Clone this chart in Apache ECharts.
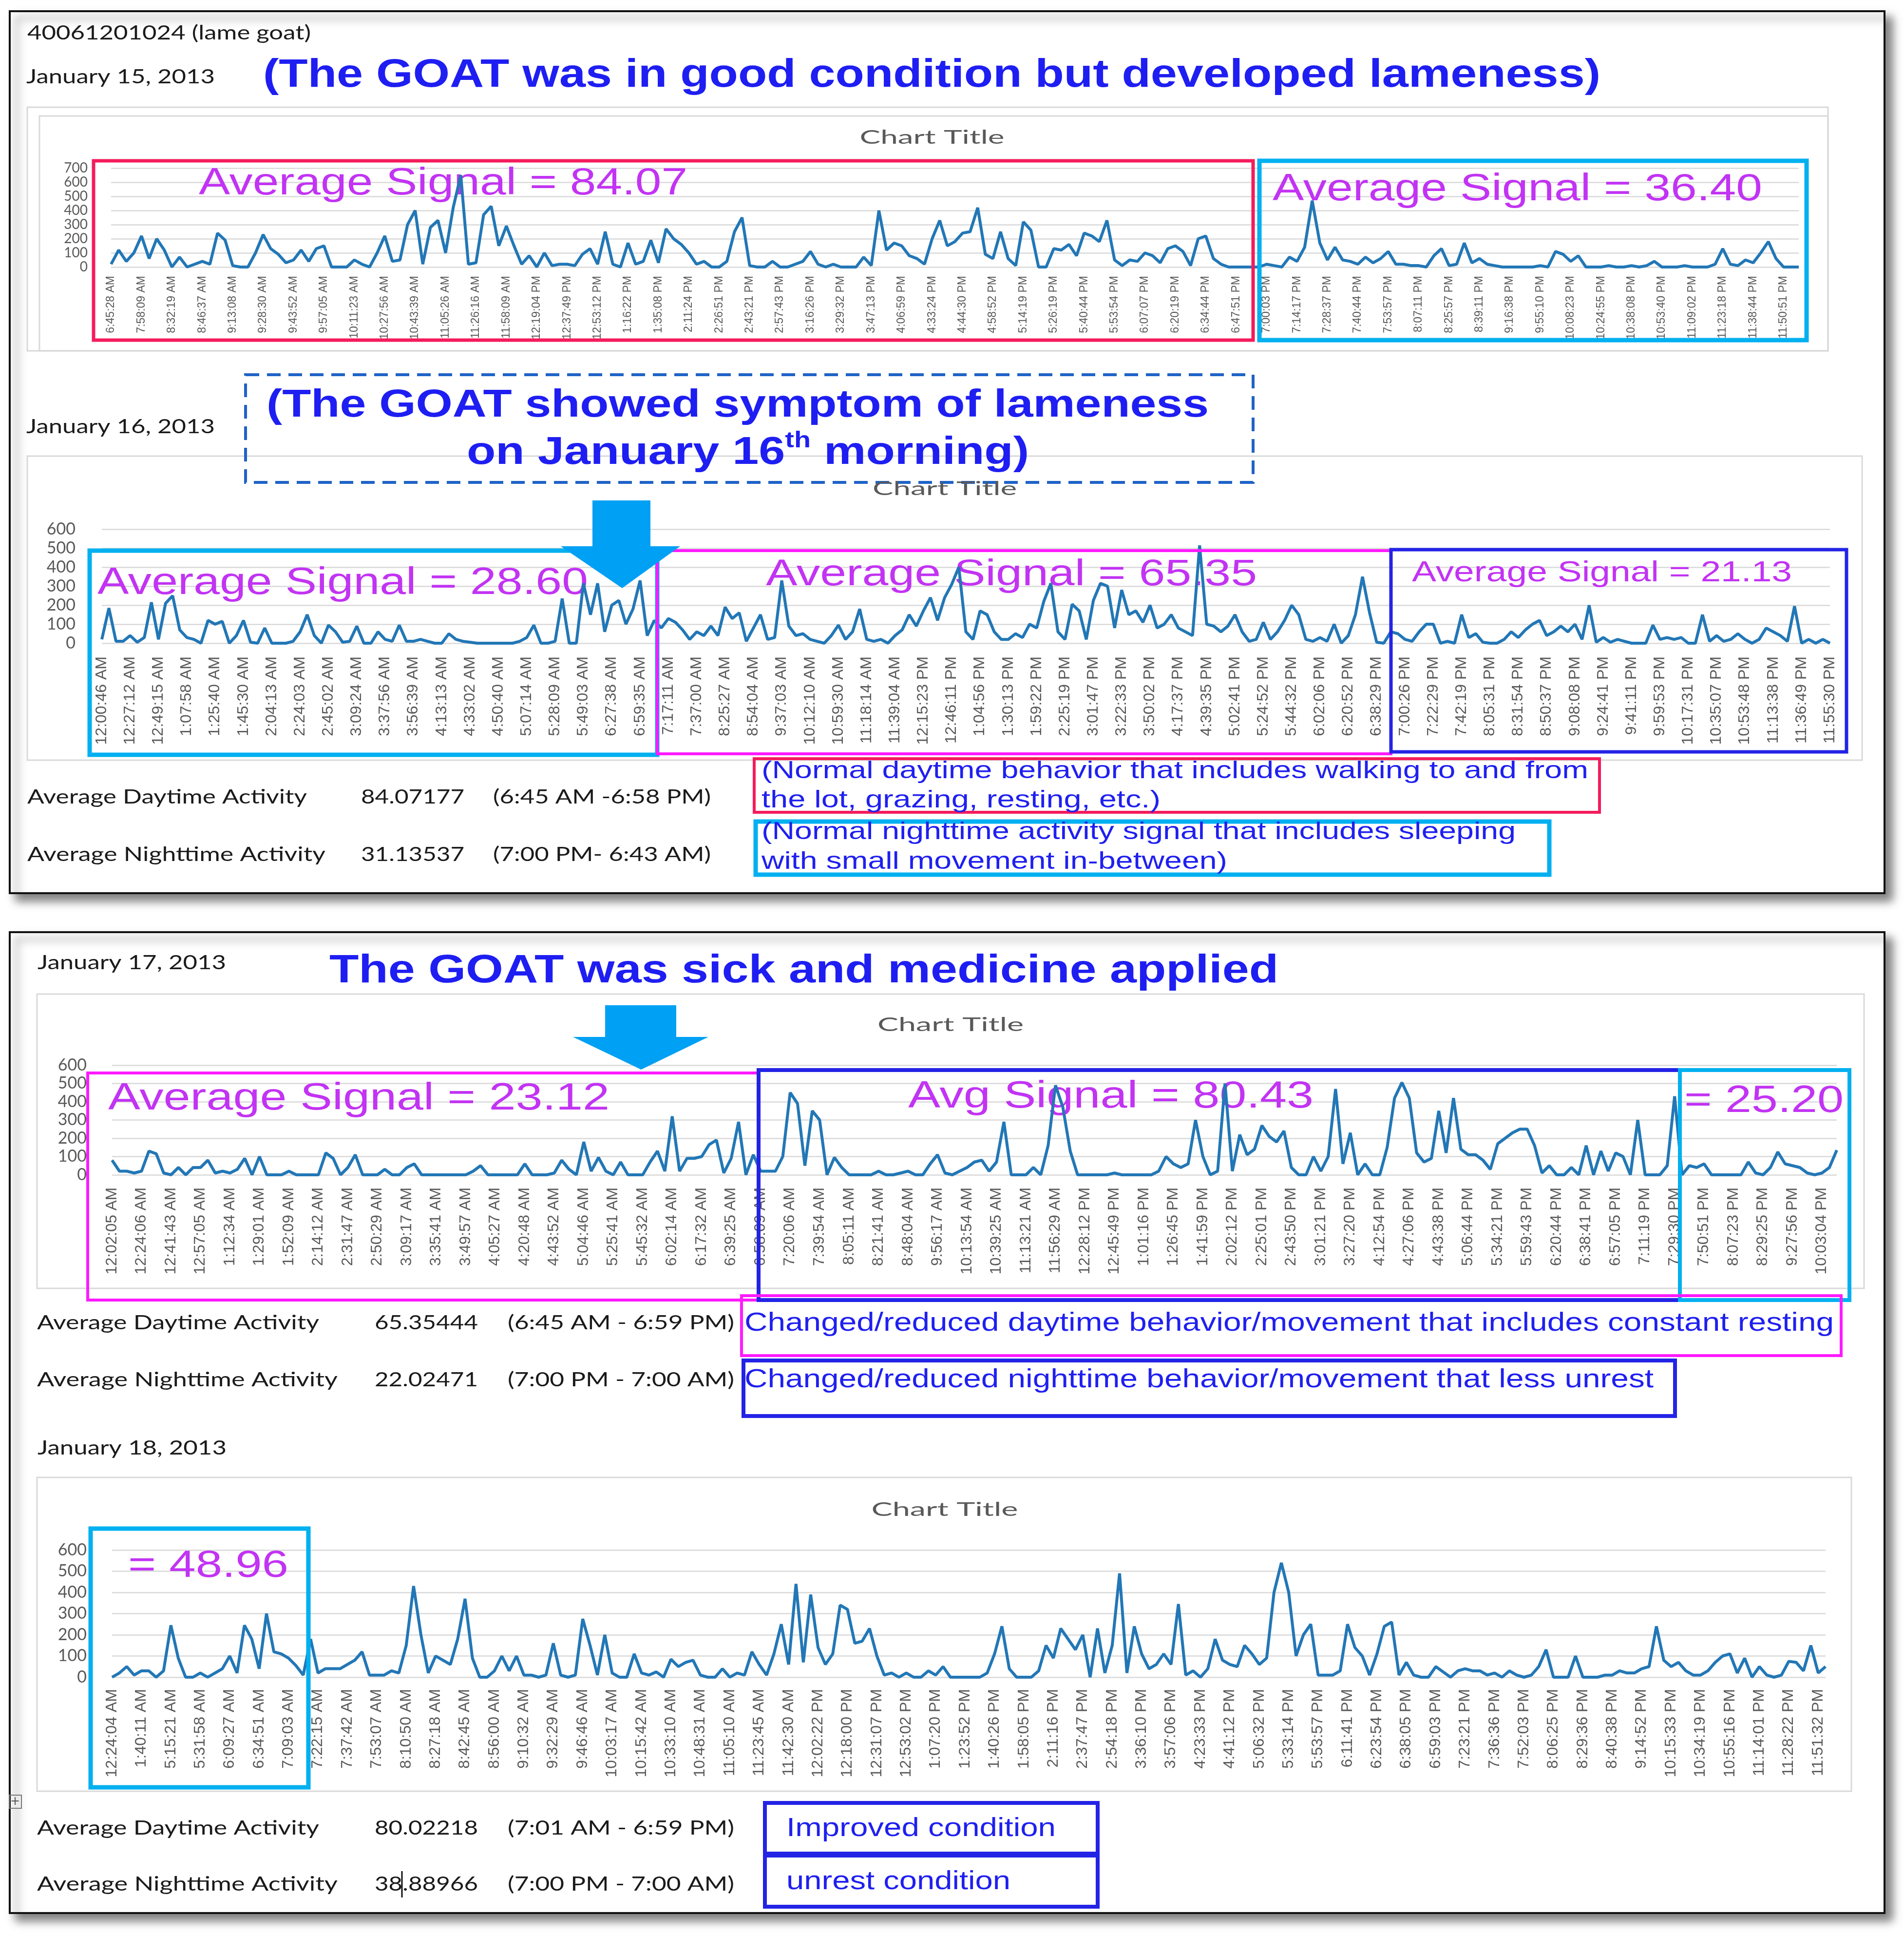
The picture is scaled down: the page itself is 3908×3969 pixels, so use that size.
<!DOCTYPE html>
<html>
<head>
<meta charset="utf-8">
<script src="https://cdn.jsdelivr.net/npm/echarts@6/dist/echarts.min.js"></script>
<style>
html, body { margin: 0; padding: 0; background: #fff; }
#main { width: 3908px; height: 3969px; }
</style>
</head>
<body>
<div id="main"></div>
<script>
// tick labels shown on each day's chart (one label every 4 readings)
var jan15Times = ['6:45:28 AM','7:58:09 AM','8:32:19 AM','8:46:37 AM','9:13:08 AM','9:28:30 AM','9:43:52 AM','9:57:05 AM','10:11:23 AM','10:27:56 AM','10:43:39 AM','11:05:26 AM','11:26:16 AM','11:58:09 AM','12:19:04 PM','12:37:49 PM','12:53:12 PM','1:16:22 PM','1:35:08 PM','2:11:24 PM','2:26:51 PM','2:43:21 PM','2:57:43 PM','3:16:26 PM','3:29:32 PM','3:47:13 PM','4:06:59 PM','4:33:24 PM','4:44:30 PM','4:58:52 PM','5:14:19 PM','5:26:19 PM','5:40:44 PM','5:53:54 PM','6:07:07 PM','6:20:19 PM','6:34:44 PM','6:47:51 PM','7:00:03 PM','7:14:17 PM','7:28:37 PM','7:40:44 PM','7:53:57 PM','8:07:11 PM','8:25:57 PM','8:39:11 PM','9:16:38 PM','9:55:10 PM','10:08:23 PM','10:24:55 PM','10:38:08 PM','10:53:40 PM','11:09:02 PM','11:23:18 PM','11:38:44 PM','11:50:51 PM'];
var jan16Times = ['12:00:46 AM','12:27:12 AM','12:49:15 AM','1:07:58 AM','1:25:40 AM','1:45:30 AM','2:04:13 AM','2:24:03 AM','2:45:02 AM','3:09:24 AM','3:37:56 AM','3:56:39 AM','4:13:13 AM','4:33:02 AM','4:50:40 AM','5:07:14 AM','5:28:09 AM','5:49:03 AM','6:27:38 AM','6:59:35 AM','7:17:11 AM','7:37:00 AM','8:25:27 AM','8:54:04 AM','9:37:03 AM','10:12:10 AM','10:59:30 AM','11:18:14 AM','11:39:04 AM','12:15:23 PM','12:46:11 PM','1:04:56 PM','1:30:13 PM','1:59:22 PM','2:25:19 PM','3:01:47 PM','3:22:33 PM','3:50:02 PM','4:17:37 PM','4:39:35 PM','5:02:41 PM','5:24:52 PM','5:44:32 PM','6:02:06 PM','6:20:52 PM','6:38:29 PM','7:00:26 PM','7:22:29 PM','7:42:19 PM','8:05:31 PM','8:31:54 PM','8:50:37 PM','9:08:08 PM','9:24:41 PM','9:41:11 PM','9:59:53 PM','10:17:31 PM','10:35:07 PM','10:53:48 PM','11:13:38 PM','11:36:49 PM','11:55:30 PM'];
var jan17Times = ['12:02:05 AM','12:24:06 AM','12:41:43 AM','12:57:05 AM','1:12:34 AM','1:29:01 AM','1:52:09 AM','2:14:12 AM','2:31:47 AM','2:50:29 AM','3:09:17 AM','3:35:41 AM','3:49:57 AM','4:05:27 AM','4:20:48 AM','4:43:52 AM','5:04:46 AM','5:25:41 AM','5:45:32 AM','6:02:14 AM','6:17:32 AM','6:39:25 AM','6:58:09 AM','7:20:06 AM','7:39:54 AM','8:05:11 AM','8:21:41 AM','8:48:04 AM','9:56:17 AM','10:13:54 AM','10:39:25 AM','11:13:21 AM','11:56:29 AM','12:28:12 PM','12:45:49 PM','1:01:16 PM','1:26:45 PM','1:41:59 PM','2:02:12 PM','2:25:01 PM','2:43:50 PM','3:01:21 PM','3:27:20 PM','4:12:54 PM','4:27:06 PM','4:43:38 PM','5:06:44 PM','5:34:21 PM','5:59:43 PM','6:20:44 PM','6:38:41 PM','6:57:05 PM','7:11:19 PM','7:29:30 PM','7:50:51 PM','8:07:23 PM','8:29:25 PM','9:27:56 PM','10:03:04 PM'];
var jan18Times = ['12:24:04 AM','1:40:11 AM','5:15:21 AM','5:31:58 AM','6:09:27 AM','6:34:51 AM','7:09:03 AM','7:22:15 AM','7:37:42 AM','7:53:07 AM','8:10:50 AM','8:27:18 AM','8:42:45 AM','8:56:00 AM','9:10:32 AM','9:32:29 AM','9:46:46 AM','10:03:17 AM','10:15:42 AM','10:33:10 AM','10:48:31 AM','11:05:10 AM','11:23:45 AM','11:42:30 AM','12:02:22 PM','12:18:00 PM','12:31:07 PM','12:53:02 PM','1:07:20 PM','1:23:52 PM','1:40:26 PM','1:58:05 PM','2:11:16 PM','2:37:47 PM','2:54:18 PM','3:36:10 PM','3:57:06 PM','4:23:33 PM','4:41:12 PM','5:06:32 PM','5:33:14 PM','5:53:57 PM','6:11:41 PM','6:23:54 PM','6:38:05 PM','6:59:03 PM','7:23:21 PM','7:36:36 PM','7:52:03 PM','8:06:25 PM','8:29:36 PM','8:40:38 PM','9:14:52 PM','10:15:33 PM','10:34:19 PM','10:55:16 PM','11:14:01 PM','11:28:22 PM','11:51:32 PM'];

// activity signal (4 readings per tick label)
var jan15Signal = [
  20,120,40,100, 220,60,200,120, 0,70,0,20, 40,20,240,190, 10,0,0,100, 230,130,90,30, 50,120,40,130, 150,0,0,0,
  50,20,0,100, 220,40,50,300, 400,20,280,330, 100,420,650,20, 30,370,430,150, 290,150,20,80, 0,100,10,20, 20,10,90,130,
  20,250,20,0, 170,20,40,190, 30,270,200,160, 100,20,40,0, 0,40,250,350, 10,0,0,40, 0,0,20,40, 110,20,0,20,
  0,0,0,70, 10,400,120,170, 150,80,60,20, 200,330,150,180, 240,250,420,90, 60,250,60,10, 320,260,0,0, 130,120,160,80,
  240,220,180,330, 50,10,50,40, 100,80,30,130, 150,110,10,200, 220,60,20,0, 0,0,0,0, 20,10,0,70, 40,140,470,170,
  50,140,50,40, 20,70,30,60, 110,20,20,10, 10,0,80,130, 10,20,170,30, 60,20,10,0, 0,0,0,0, 10,0,110,90,
  40,80,0,0, 0,10,0,0, 10,0,10,40, 0,0,0,10, 0,0,0,20, 130,20,10,50, 30,100,180,60, 0,0,0
];
var jan16Signal = [
  20,185,10,10, 40,5,30,215, 20,210,250,70, 30,20,0,120, 100,115,0,40, 120,5,0,80, 0,0,0,10, 60,150,40,0,
  95,60,5,10, 90,0,0,60, 20,10,95,10, 10,20,10,0, 0,50,20,10, 5,0,0,0, 0,0,0,10, 30,95,0,0,
  10,235,0,0, 315,150,315,60, 200,225,100,180, 330,40,120,80, 130,110,70,20, 60,40,90,40, 190,130,160,10, 80,150,20,30,
  330,90,40,50, 20,10,0,40, 95,20,60,180, 20,10,20,0, 40,70,150,90, 170,240,120,240, 310,400,60,20, 170,150,60,20,
  20,50,30,100, 80,220,315,60, 20,205,170,20, 225,315,300,80, 280,150,170,110, 200,80,100,150, 80,60,40,515, 100,90,60,90,
  150,60,10,20, 110,20,60,120, 200,150,20,10, 30,10,100,0, 40,150,350,160, 5,0,60,50, 20,10,60,100, 100,0,10,0,
  150,30,50,5, 0,0,20,60, 30,70,100,120, 40,60,90,60, 100,20,200,5, 30,5,20,10, 0,0,0,95, 20,30,20,30,
  0,0,150,10, 40,10,20,50, 20,0,20,80, 60,40,10,195, 0,20,0,20, 0
];
var jan17Signal = [
  80,20,20,10, 20,130,115,10, 0,40,0,40, 40,80,10,20, 10,30,90,0, 100,0,0,0, 20,0,0,0, 0,120,90,0,
  40,110,0,0, 0,30,0,0, 40,60,0,0, 0,0,0,0, 0,20,50,0, 0,0,0,0, 60,0,0,0, 10,80,30,0,
  180,20,95,20, 0,70,0,0, 0,70,130,20, 320,20,90,90, 100,165,190,10, 90,290,0,110, 20,20,20,100, 450,390,50,350,
  300,0,95,40, 0,0,0,0, 20,0,0,10, 20,0,0,60, 110,10,0,20, 40,70,80,20, 70,290,0,0, 0,40,0,160,
  490,370,130,0, 0,0,0,0, 10,0,0,0, 0,0,20,100, 60,40,60,300, 100,0,20,500, 20,220,110,140, 270,210,180,240,
  40,0,0,100, 20,100,470,60, 230,0,60,0, 0,150,420,505, 420,120,70,90, 350,120,420,140, 110,110,80,30, 170,200,230,250,
  250,160,10,50, 0,0,40,0, 160,0,130,20, 120,100,0,300, 0,0,0,50, 430,0,50,40, 60,0,0,0, 0,0,70,10,
  0,40,125,60, 50,40,10,0, 10,40,135
];
var jan18Signal = [
  0,20,50,10, 30,30,0,30, 245,90,0,0, 20,0,20,40, 100,20,245,180, 40,300,120,110, 90,55,10,180, 20,40,40,40,
  60,80,120,10, 10,10,30,20, 150,430,200,20, 100,80,60,180, 370,90,0,0, 30,100,30,100, 10,10,0,10, 160,10,0,10,
  275,150,10,200, 20,0,0,110, 20,10,25,0, 85,50,70,80, 10,0,0,40, 0,20,10,120, 60,10,110,250, 60,440,70,390,
  140,60,110,340, 320,160,170,230, 100,10,20,0, 20,0,0,30, 10,50,0,0, 0,0,0,20, 110,240,40,0, 0,0,30,150,
  90,230,180,130, 200,0,230,20, 150,490,20,240, 110,40,60,110, 60,345,10,30, 0,40,180,80, 60,50,150,110, 60,90,400,540,
  400,100,200,250, 10,10,10,30, 250,140,100,10, 110,240,260,10, 70,10,0,0, 50,25,0,30, 40,30,30,10, 20,0,30,10,
  0,10,50,130, 0,0,0,100, 0,0,0,10, 10,30,20,20, 40,50,240,80, 50,70,30,10, 10,30,70,100, 110,20,90,0,
  50,10,0,10, 75,70,30,150, 20,50
];

// summary figures printed under the charts
var jan16Summary = [['Average Daytime Activity', '84.07177', '(6:45 AM -6:58 PM)'], ['Average Nighttime Activity', '31.13537', '(7:00 PM- 6:43 AM)']];
var jan17Summary = [['Average Daytime Activity', '65.35444', '(6:45 AM - 6:59 PM)'], ['Average Nighttime Activity', '22.02471', '(7:00 PM - 7:00 AM)']];
var jan18Summary = [['Average Daytime Activity', '80.02218', '(7:01 AM - 6:59 PM)'], ['Average Nighttime Activity', '38.88966', '(7:00 PM - 7:00 AM)']];

var PER_LABEL = 4;
var LINE = '#2277b6';
var GRID = '#d9d9d9';
var AXIS_TXT = '#595959';
var TITLE_BLUE = '#1e1ef2';
var TEXT_BLUE = '#1f1ff0';
var PURPLE = '#c233f3';
var RED = '#f41c5c';
var CYAN = '#00b0f0';
var MAGENTA = '#ff1aff';
var NAVY = '#2323e6';
var ARROW = '#00a0f4';
var CAL = 'Lato';
var ARIAL = 'Liberation Sans';

function categories(times, n) {
  var out = [];
  for (var i = 0; i < n; i++) out.push(i % PER_LABEL === 0 ? times[i / PER_LABEL] : '');
  return out;
}

var charts = [
  {times: jan15Times, signal: jan15Signal, max: 700, left: 228, right: 216, top: 345, height: 203, xFont: 23, xMargin: 18, yFont: 28, yMargin: 48},
  {times: jan16Times, signal: jan16Signal, max: 600, left: 209, right: 152, top: 1086, height: 234, xFont: 32, xMargin: 27, yFont: 34, yMargin: 54},
  {times: jan17Times, signal: jan17Signal, max: 600, left: 230, right: 138, top: 2186, height: 225, xFont: 31.5, xMargin: 26, yFont: 34, yMargin: 52},
  {times: jan18Times, signal: jan18Signal, max: 600, left: 230, right: 161, top: 3181, height: 261, xFont: 32, xMargin: 24, yFont: 34, yMargin: 52}
];

// ---- annotation helpers ----
var measureCtx = document.createElement('canvas').getContext('2d');
function natural(s, size, family, weight) {
  measureCtx.font = (weight || 'normal') + ' ' + size + 'px "' + family + '"';
  return measureCtx.measureText(s).width;
}
function txt(s, x, y, o) {
  var fam = o.family || CAL;
  var sx = o.w ? o.w / natural(s, o.size, fam, o.weight) : 1;
  return {
    type: 'text', x: x, y: y, scaleX: sx, z: o.z == null ? 20 : o.z, silent: true,
    style: {
      text: s, fontSize: o.size, fontFamily: fam, fontWeight: o.weight || 'normal',
      fill: o.color || '#1a1a1a', textAlign: o.align || 'left', textVerticalAlign: 'middle'
    }
  };
}
function box(x, y, w, h, color, lw, z, dash) {
  return {
    type: 'rect', z: z == null ? 15 : z, silent: true,
    shape: {x: x, y: y, width: w, height: h},
    style: {fill: null, stroke: color, lineWidth: lw, lineDash: dash || null}
  };
}
function panel(x, y, w, h) {
  return {
    type: 'rect', z: -20, silent: true,
    shape: {x: x, y: y, width: w, height: h},
    style: {fill: '#fff', stroke: '#111', lineWidth: 4, shadowBlur: 18, shadowOffsetX: 14, shadowOffsetY: 14, shadowColor: 'rgba(0,0,0,0.5)'}
  };
}
function arrow(x1, x2, top, neck, hx1, hx2, tipX, tipY) {
  return {
    type: 'polygon', z: 18, silent: true,
    shape: {points: [[x1, top], [x2, top], [x2, neck], [hx2, neck], [tipX, tipY], [hx1, neck], [x1, neck]]},
    style: {fill: ARROW}
  };
}
function summary(rows, ys, xs, ws) {
  var out = [];
  rows.forEach(function (r, i) {
    r.forEach(function (s, j) {
      out.push(txt(s, xs[j], ys[i], {size: 40, w: ws[i][j]}));
    });
  });
  return out;
}

var g = [];
// the two document pages
g.push(panel(20, 23, 3848, 1810));
g.push(panel(20, 1913, 3848, 2013));
// chart frames
g.push(box(56, 220, 3696, 500, GRID, 3, -10));
g.push(box(81, 238, 3671, 482, GRID, 3, -10));
g.push(box(56, 936, 3766, 624, GRID, 3, -10));
g.push(box(76, 2040, 3750, 604, GRID, 3, -10));
g.push(box(76, 3032, 3724, 644, GRID, 3, -10));

// ---- page 1 ----
g.push(txt('40061201024 (lame goat)', 56, 68, {size: 40, w: 582}));
g.push(txt('January 15, 2013', 54, 158, {size: 40, w: 387}));
g.push(txt('(The GOAT was in good condition but developed lameness)', 540, 155, {size: 82, family: ARIAL, weight: 'bold', w: 2745, color: TITLE_BLUE}));
g.push(txt('Chart Title', 1913, 283, {size: 38, w: 297, align: 'center', color: AXIS_TXT}));
g.push(txt('Average Signal = 84.07', 408, 377, {size: 78, family: ARIAL, w: 1003, color: PURPLE, z: 1}));
g.push(txt('Average Signal = 36.40', 2612, 389, {size: 78, family: ARIAL, w: 1005, color: PURPLE, z: 1}));
g.push(box(192, 330, 2380, 368, RED, 7));
g.push(box(2585, 330, 1123, 368, CYAN, 9));

g.push(txt('January 16, 2013', 54, 876, {size: 40, w: 387}));
g.push(box(504, 769, 2068, 221, '#1f63c6', 6, 15, [28, 16]));
g.push(txt('(The GOAT showed symptom of lameness', 547, 833, {size: 80, family: ARIAL, weight: 'bold', w: 1934, color: TITLE_BLUE}));
(function () {
  var a = 'on January 16', b = 'th', c = ' morning)';
  var wa = natural(a, 80, ARIAL, 'bold'), wb = natural(b, 46, ARIAL, 'bold'), wc = natural(c, 80, ARIAL, 'bold');
  var s = 1154 / (wa + wb + wc), x0 = 958;
  g.push(txt(a, x0, 930, {size: 80, family: ARIAL, weight: 'bold', w: wa * s, color: TITLE_BLUE}));
  g.push(txt(b, x0 + wa * s, 905, {size: 46, family: ARIAL, weight: 'bold', w: wb * s, color: TITLE_BLUE}));
  g.push(txt(c, x0 + (wa + wb) * s, 930, {size: 80, family: ARIAL, weight: 'bold', w: wc * s, color: TITLE_BLUE}));
})();
g.push(txt('Chart Title', 1939, 1004, {size: 38, w: 296, align: 'center', color: AXIS_TXT}));
g.push(txt('Average Signal = 28.60', 200, 1197, {size: 78, family: ARIAL, w: 1007, color: PURPLE, z: 1}));
g.push(txt('Average Signal = 65.35', 1572, 1180, {size: 76, family: ARIAL, w: 1008, color: PURPLE, z: 1}));
g.push(txt('Average Signal = 21.13', 2898, 1176, {size: 60, family: ARIAL, w: 780, color: PURPLE, z: 1}));
g.push(arrow(1216, 1335, 1027, 1121, 1151, 1396, 1277, 1207));
g.push(box(184, 1130, 1165, 419, CYAN, 9));
g.push(box(1349, 1130, 1506, 417, MAGENTA, 6));
g.push(box(2855, 1128, 935, 415, NAVY, 7));

g = g.concat(summary(jan16Summary, [1636, 1754], [56, 741, 1012], [[574, 212, 447], [612, 212, 447]]));
g.push(box(1548, 1557, 1735, 110, RED, 6));
g.push(txt('(Normal daytime behavior that includes walking to and from', 1563, 1583, {size: 50, family: ARIAL, w: 1697, color: TEXT_BLUE}));
g.push(txt('the lot, grazing, resting, etc.)', 1563, 1643, {size: 50, family: ARIAL, w: 819, color: TEXT_BLUE}));
g.push(box(1551, 1686, 1629, 109, CYAN, 9));
g.push(txt('(Normal nighttime activity signal that includes sleeping', 1563, 1708, {size: 50, family: ARIAL, w: 1548, color: TEXT_BLUE}));
g.push(txt('with small movement in-between)', 1563, 1769, {size: 50, family: ARIAL, w: 956, color: TEXT_BLUE}));

// ---- page 2 ----
g.push(txt('January 17, 2013', 77, 1976, {size: 40, w: 387}));
g.push(txt('The GOAT was sick and medicine applied', 676, 1993, {size: 82, family: ARIAL, weight: 'bold', w: 1948, color: TITLE_BLUE}));
g.push(txt('Chart Title', 1951, 2104, {size: 38, w: 300, align: 'center', color: AXIS_TXT}));
g.push(arrow(1242, 1388, 2063, 2128, 1176, 1454, 1316, 2195));
g.push(txt('Average Signal = 23.12', 222, 2255, {size: 78, family: ARIAL, w: 1029, color: PURPLE, z: 1}));
g.push(txt('Avg Signal = 80.43', 1864, 2251, {size: 78, family: ARIAL, w: 832, color: PURPLE, z: 1}));
g.push(txt('= 25.20', 3457, 2260, {size: 78, family: ARIAL, w: 327, color: PURPLE, z: 1}));
g.push(box(180, 2202, 1377, 466, MAGENTA, 6));
g.push(box(1557, 2196, 1891, 472, NAVY, 8));
g.push(box(3448, 2196, 348, 472, CYAN, 8));

g = g.concat(summary(jan17Summary, [2715, 2832], [76, 769, 1042], [[579, 212, 465], [617, 212, 465]]));
g.push(box(1522, 2659, 2257, 123, MAGENTA, 6));
g.push(txt('Changed/reduced daytime behavior/movement that includes constant resting', 1528, 2716, {size: 54, family: ARIAL, w: 2236, color: TEXT_BLUE}));
g.push(box(1526, 2792, 1912, 114, NAVY, 8));
g.push(txt('Changed/reduced nighttime behavior/movement that less unrest', 1528, 2832, {size: 54, family: ARIAL, w: 1866, color: TEXT_BLUE}));

g.push(txt('January 18, 2013', 77, 2972, {size: 40, w: 388}));
g.push(txt('Chart Title', 1939, 3099, {size: 38, w: 301, align: 'center', color: AXIS_TXT}));
g.push(txt('= 48.96', 263, 3214, {size: 78, family: ARIAL, w: 329, color: PURPLE, z: 1}));
g.push(box(186, 3137, 447, 531, CYAN, 9));

g = g.concat(summary(jan18Summary, [3752, 3867], [76, 769, 1042], [[579, 212, 465], [617, 212, 465]]));
// text cursor left in the document
g.push({type: 'line', z: 21, silent: true, shape: {x1: 825, y1: 3840, x2: 825, y2: 3894}, style: {stroke: '#111', lineWidth: 3}});
// table move handle
g.push(box(19, 3684, 25, 27, '#777', 2, 5));
g.push({type: 'text', x: 31, y: 3698, z: 6, silent: true, style: {text: '+', fontSize: 24, fontFamily: 'DejaVu Sans', fill: '#555', textAlign: 'center', textVerticalAlign: 'middle'}});

g.push(box(1570, 3700, 683, 104, NAVY, 8));
g.push(txt('Improved condition', 1614, 3753, {size: 54, family: ARIAL, w: 553, color: TEXT_BLUE}));
g.push(box(1570, 3808, 683, 105, NAVY, 8));
g.push(txt('unrest condition', 1614, 3862, {size: 54, family: ARIAL, w: 460, color: TEXT_BLUE}));

// ---- charts ----
var grids = [], xAxes = [], yAxes = [], series = [];
charts.forEach(function (c, i) {
  grids.push({left: c.left, right: c.right, top: c.top, height: c.height, containLabel: false, outerBoundsMode: 'none'});
  xAxes.push({
    gridIndex: i, type: 'category', boundaryGap: false,
    data: categories(c.times, c.signal.length),
    axisLine: {show: false}, axisTick: {show: false}, splitLine: {show: false},
    axisLabel: {interval: PER_LABEL - 1, rotate: 90, margin: c.xMargin, fontSize: c.xFont, fontFamily: ARIAL, color: AXIS_TXT}
  });
  yAxes.push({
    gridIndex: i, type: 'value', min: 0, max: c.max, interval: 100,
    axisLine: {show: false}, axisTick: {show: false},
    axisLabel: {margin: c.yMargin, fontSize: c.yFont, fontFamily: CAL, color: AXIS_TXT, showMinLabel: true, showMaxLabel: true, hideOverlap: false},
    splitLine: {lineStyle: {color: GRID, width: 2.5}}
  });
  series.push({
    type: 'line', xAxisIndex: i, yAxisIndex: i, data: c.signal,
    showSymbol: false, symbol: 'none', z: 3,
    lineStyle: {color: LINE, width: 6}
  });
});

var chart = echarts.init(document.getElementById('main'));
chart.setOption({
  animation: false,
  backgroundColor: '#fff',
  textStyle: {fontFamily: CAL},
  grid: grids,
  xAxis: xAxes,
  yAxis: yAxes,
  series: series,
  graphic: {elements: g}
});
</script>
</body>
</html>
